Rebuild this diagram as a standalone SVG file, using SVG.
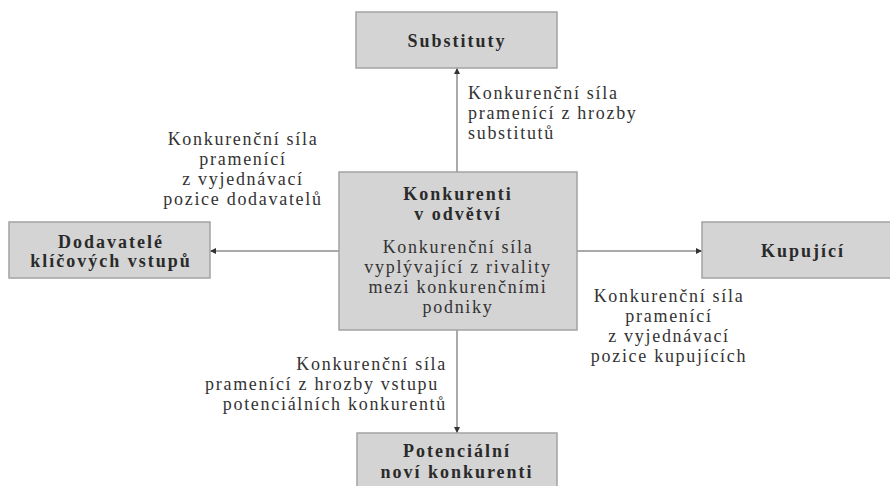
<svg xmlns="http://www.w3.org/2000/svg" width="890" height="486" viewBox="0 0 890 486">
<defs>
<marker id="arr" viewBox="0 0 10 10" refX="10" refY="5" markerWidth="6" markerHeight="6" orient="auto" markerUnits="userSpaceOnUse">
<path d="M0,0 L10,5 L0,10 z" fill="#333"/>
</marker>
<style>
.box{fill:#d4d4d4;stroke:#a3a3a3;stroke-width:1.5}
.b{font-family:"Liberation Serif","Times New Roman",serif;font-weight:bold;font-size:18px;letter-spacing:2px;fill:#2a2a2a;text-anchor:middle}
.t{font-family:"Liberation Serif","Times New Roman",serif;font-size:18px;letter-spacing:1.7px;fill:#333}
.c{text-anchor:middle}
.l{text-anchor:start}
.r{text-anchor:end}
.edge{stroke:#555;stroke-width:1;fill:none;marker-end:url(#arr)}
</style>
</defs>
<rect width="890" height="486" fill="#fff"/>
<g id="connectors">
<line class="edge" x1="457" y1="172" x2="457" y2="68"/>
<line class="edge" x1="457" y1="330" x2="457" y2="433"/>
<line class="edge" x1="339" y1="251" x2="210" y2="251"/>
<line class="edge" x1="577" y1="251" x2="702" y2="251"/>
</g>
<g id="node-substituty">
<rect class="box" x="356" y="12" width="201" height="56"/>
<text class="b" x="457" y="47">Substituty</text>
</g>
<g id="node-konkurenti">
<rect class="box" x="339" y="172" width="238" height="158"/>
<text class="b" x="458" y="200">Konkurenti</text>
<text class="b" x="458" y="220">v odvětví</text>
<text class="t c" x="458" y="253">Konkurenční síla</text>
<text class="t c" x="458" y="273">vyplývající z rivality</text>
<text class="t c" x="458" y="293">mezi konkurenčními</text>
<text class="t c" x="458" y="313">podniky</text>
</g>
<g id="node-dodavatele">
<rect class="box" x="9" y="222" width="201" height="56"/>
<text class="b" x="111" y="248">Dodavatelé</text>
<text class="b" x="111" y="267">klíčových vstupů</text>
</g>
<g id="node-kupujici">
<rect class="box" x="702" y="222" width="200" height="56"/>
<text class="b" x="803" y="257">Kupující</text>
</g>
<g id="node-potencialni">
<rect class="box" x="357" y="433" width="200" height="70"/>
<text class="b" x="457" y="457">Potenciální</text>
<text class="b" x="457" y="478">noví konkurenti</text>
</g>
<g id="labels">
<text class="t l" x="468" y="99">Konkurenční síla</text>
<text class="t l" x="468" y="119">pramenící z hrozby</text>
<text class="t l" x="468" y="139">substitutů</text>
<text class="t c" x="243" y="145">Konkurenční síla</text>
<text class="t c" x="243" y="165">pramenící</text>
<text class="t c" x="243" y="185">z vyjednávací</text>
<text class="t c" x="243" y="205">pozice dodavatelů</text>
<text class="t c" x="669" y="302">Konkurenční síla</text>
<text class="t c" x="669" y="322">pramenící</text>
<text class="t c" x="669" y="342">z vyjednávací</text>
<text class="t c" x="669" y="362">pozice kupujících</text>
<text class="t r" x="447" y="370">Konkurenční síla</text>
<text class="t r" x="439" y="390">pramenící z hrozby vstupu</text>
<text class="t r" x="447" y="410">potenciálních konkurentů</text>
</g>
</svg>
